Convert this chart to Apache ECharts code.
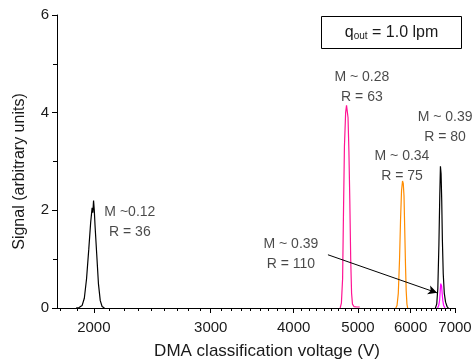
<!DOCTYPE html>
<html><head><meta charset="utf-8">
<script src="https://cdn.jsdelivr.net/npm/echarts@6/dist/echarts.min.js"></script>
<style>html,body{margin:0;padding:0;background:#fff}#c{width:475px;height:361px}</style>
</head><body><div id="c"></div>
<script>
// ---- data (voltage in V, signal in arbitrary units) ----
const xMajorTicks = [2000, 3000, 4000, 5000, 6000, 7000];
const xMinorTicks = [1778, 1889, 2111, 2222, 2333, 2444, 2556, 2667, 2778, 2889,
  3111, 3222, 3333, 3444, 3556, 3667, 3778, 3889,
  4111, 4222, 4333, 4444, 4556, 4667, 4778, 4889,
  5111, 5222, 5333, 5444, 5556, 5667, 5778, 5889,
  6111, 6222, 6333, 6444, 6556, 6667, 6778, 6889];
const xRange = [1760, 7000];
const yTicks = [0, 2, 4, 6];

const peak012V = [1880, 1900, 1920, 1935, 1950, 1965, 1978, 1988, 1993, 1998, 2003, 2008, 2020, 2032, 2045, 2058, 2075];
const peak012S = [0, 0.01, 0.05, 0.2, 0.6, 1.2, 1.75, 2.05, 1.95, 2.2, 2.0, 1.7, 1.1, 0.5, 0.15, 0.03, 0];

const peak028V = [4700, 4720, 4740, 4755, 4770, 4790, 4805, 4815, 4830, 4845, 4860, 4875, 4890, 4905, 4930, 4980, 5030];
const peak028S = [0, 0.1, 0.6, 2.0, 3.3, 4.0, 4.15, 4.12, 3.9, 3.2, 2.2, 1.0, 0.3, 0.08, 0.03, 0.02, 0.02];

const peak034V = [5700, 5725, 5750, 5775, 5795, 5815, 5835, 5850, 5865, 5880, 5895, 5910, 5925, 5940];
const peak034S = [0, 0.05, 0.3, 1.0, 1.8, 2.4, 2.6, 2.55, 2.3, 1.6, 0.9, 0.35, 0.08, 0];

const peak039aV = [6540, 6570, 6595, 6620, 6640, 6655, 6670, 6685, 6700, 6720, 6745, 6775, 6810, 6840];
const peak039aS = [0, 0.08, 0.4, 1.3, 2.3, 2.9, 2.75, 2.2, 1.4, 0.7, 0.3, 0.12, 0.03, 0];

const peak039bV = [6590, 6615, 6635, 6650, 6662, 6672, 6682, 6695, 6710, 6730, 6760];
const peak039bS = [0, 0.05, 0.15, 0.35, 0.5, 0.53, 0.45, 0.3, 0.15, 0.05, 0];

const annoText = ['M ~0.12\nR = 36', 'M ~ 0.28\nR = 63', 'M ~ 0.39\nR = 80', 'M ~ 0.34\nR = 75', 'M ~ 0.39\nR = 110'];
const annoV = [2266, 5068, 6763, 5824, 3962];
const annoS = [1.75, 4.53, 3.71, 2.90, 1.11];

const arrowFromV = 4505, arrowFromS = 1.09;
const arrowToV = 6578, arrowToS = 0.31;

// ---- build ----
const L = v => Math.log10(v);
const pts = (V, S) => V.map((v, i) => [L(v), S[i]]);
const FONT = 'Liberation Sans, Arial, sans-serif';
const TXT = '#1a1a1a';

const chart = echarts.init(document.getElementById('c'), null, {renderer: 'canvas'});
const lineSeries = (data, color) => ({
  type: 'line', data, showSymbol: false, symbol: 'none', smooth: false,
  lineStyle: {color, width: 1.2}, xAxisIndex: 0, yAxisIndex: 0, silent: true, animation: false
});

chart.setOption({
  animation: false,
  backgroundColor: '#fff',
  grid: {left: 57, right: 20, top: 15, bottom: 53, containLabel: false, outerBoundsMode: 'none'},
  xAxis: [{
    type: 'value', min: L(xRange[0]), max: L(xRange[1]),
    name: 'DMA classification voltage (V)', nameLocation: 'middle', nameGap: 35,
    nameTextStyle: {fontFamily: FONT, fontSize: 17, color: TXT, padding: [0, 0, 0, 22]},
    axisLine: {show: true, onZero: false, lineStyle: {color: '#000', width: 1}},
    axisTick: {show: true, inside: false, length: 5, lineStyle: {color: '#000'}, customValues: xMajorTicks.map(L)},
    axisLabel: {show: true, fontFamily: FONT, fontSize: 15, color: TXT, margin: 12,
      customValues: xMajorTicks.map(L), formatter: v => String(Math.round(Math.pow(10, v) / 100) * 100)},
    splitLine: {show: false}
  }, {
    type: 'value', min: L(xRange[0]), max: L(xRange[1]), position: 'bottom',
    axisLine: {show: false},
    axisTick: {show: true, inside: false, length: 3, lineStyle: {color: '#000'}, customValues: xMinorTicks.map(L)},
    axisLabel: {show: false}, splitLine: {show: false}
  }],
  yAxis: {
    type: 'value', min: 0, max: 6, interval: 2,
    name: 'Signal (arbitrary units)', nameLocation: 'middle', nameGap: 29,
    nameTextStyle: {fontFamily: FONT, fontSize: 16, color: TXT, padding: [0, 20, 0, 0]},
    axisLine: {show: true, onZero: false, lineStyle: {color: '#000', width: 1}},
    axisTick: {show: true, inside: false, length: 5, lineStyle: {color: '#000'}},
    minorTick: {show: true, splitNumber: 2, length: 4, lineStyle: {color: '#000'}},
    axisLabel: {fontFamily: FONT, fontSize: 15, color: TXT, margin: 8,
      customValues: yTicks},
    splitLine: {show: false}, minorSplitLine: {show: false}
  },
  series: [
    lineSeries(pts(peak012V, peak012S), '#000000'),
    lineSeries(pts(peak028V, peak028S), '#ff1493'),
    lineSeries(pts(peak034V, peak034S), '#ff8c00'),
    lineSeries(pts(peak039aV, peak039aS), '#000000'),
    lineSeries(pts(peak039bV, peak039bS), '#ff00ff'),
    {
      type: 'scatter', symbolSize: 0, silent: true,
      data: annoV.map((v, i) => ({value: [L(v), annoS[i]], label: {formatter: annoText[i]}})),
      label: {show: true, position: 'inside', align: 'center', verticalAlign: 'middle',
        fontFamily: FONT, fontSize: 14, color: TXT, lineHeight: 20},
      markLine: {
        silent: true, symbol: ['none', 'arrow'], symbolSize: [7, 9],
        lineStyle: {color: '#000', width: 1, type: 'solid'}, label: {show: false},
        data: [[{coord: [L(arrowFromV), arrowFromS]}, {coord: [L(arrowToV), arrowToS]}]]
      }
    }
  ],
  graphic: [{
    type: 'group', left: 321, top: 16,
    children: [
      {type: 'rect', shape: {x: 0, y: 0, width: 140, height: 32}, style: {fill: '#fff', stroke: '#000', lineWidth: 1}},
      {type: 'text', x: 70, y: 16, style: {
        text: '{q|q}{s|out}{q| = 1.0 lpm}', align: 'center', verticalAlign: 'middle',
        rich: {q: {fontFamily: FONT, fontSize: 16, fill: TXT}, s: {fontFamily: FONT, fontSize: 10, fill: TXT, padding: [8, 0, 0, 0]}}
      }}
    ]
  }]
});
</script></body></html>
